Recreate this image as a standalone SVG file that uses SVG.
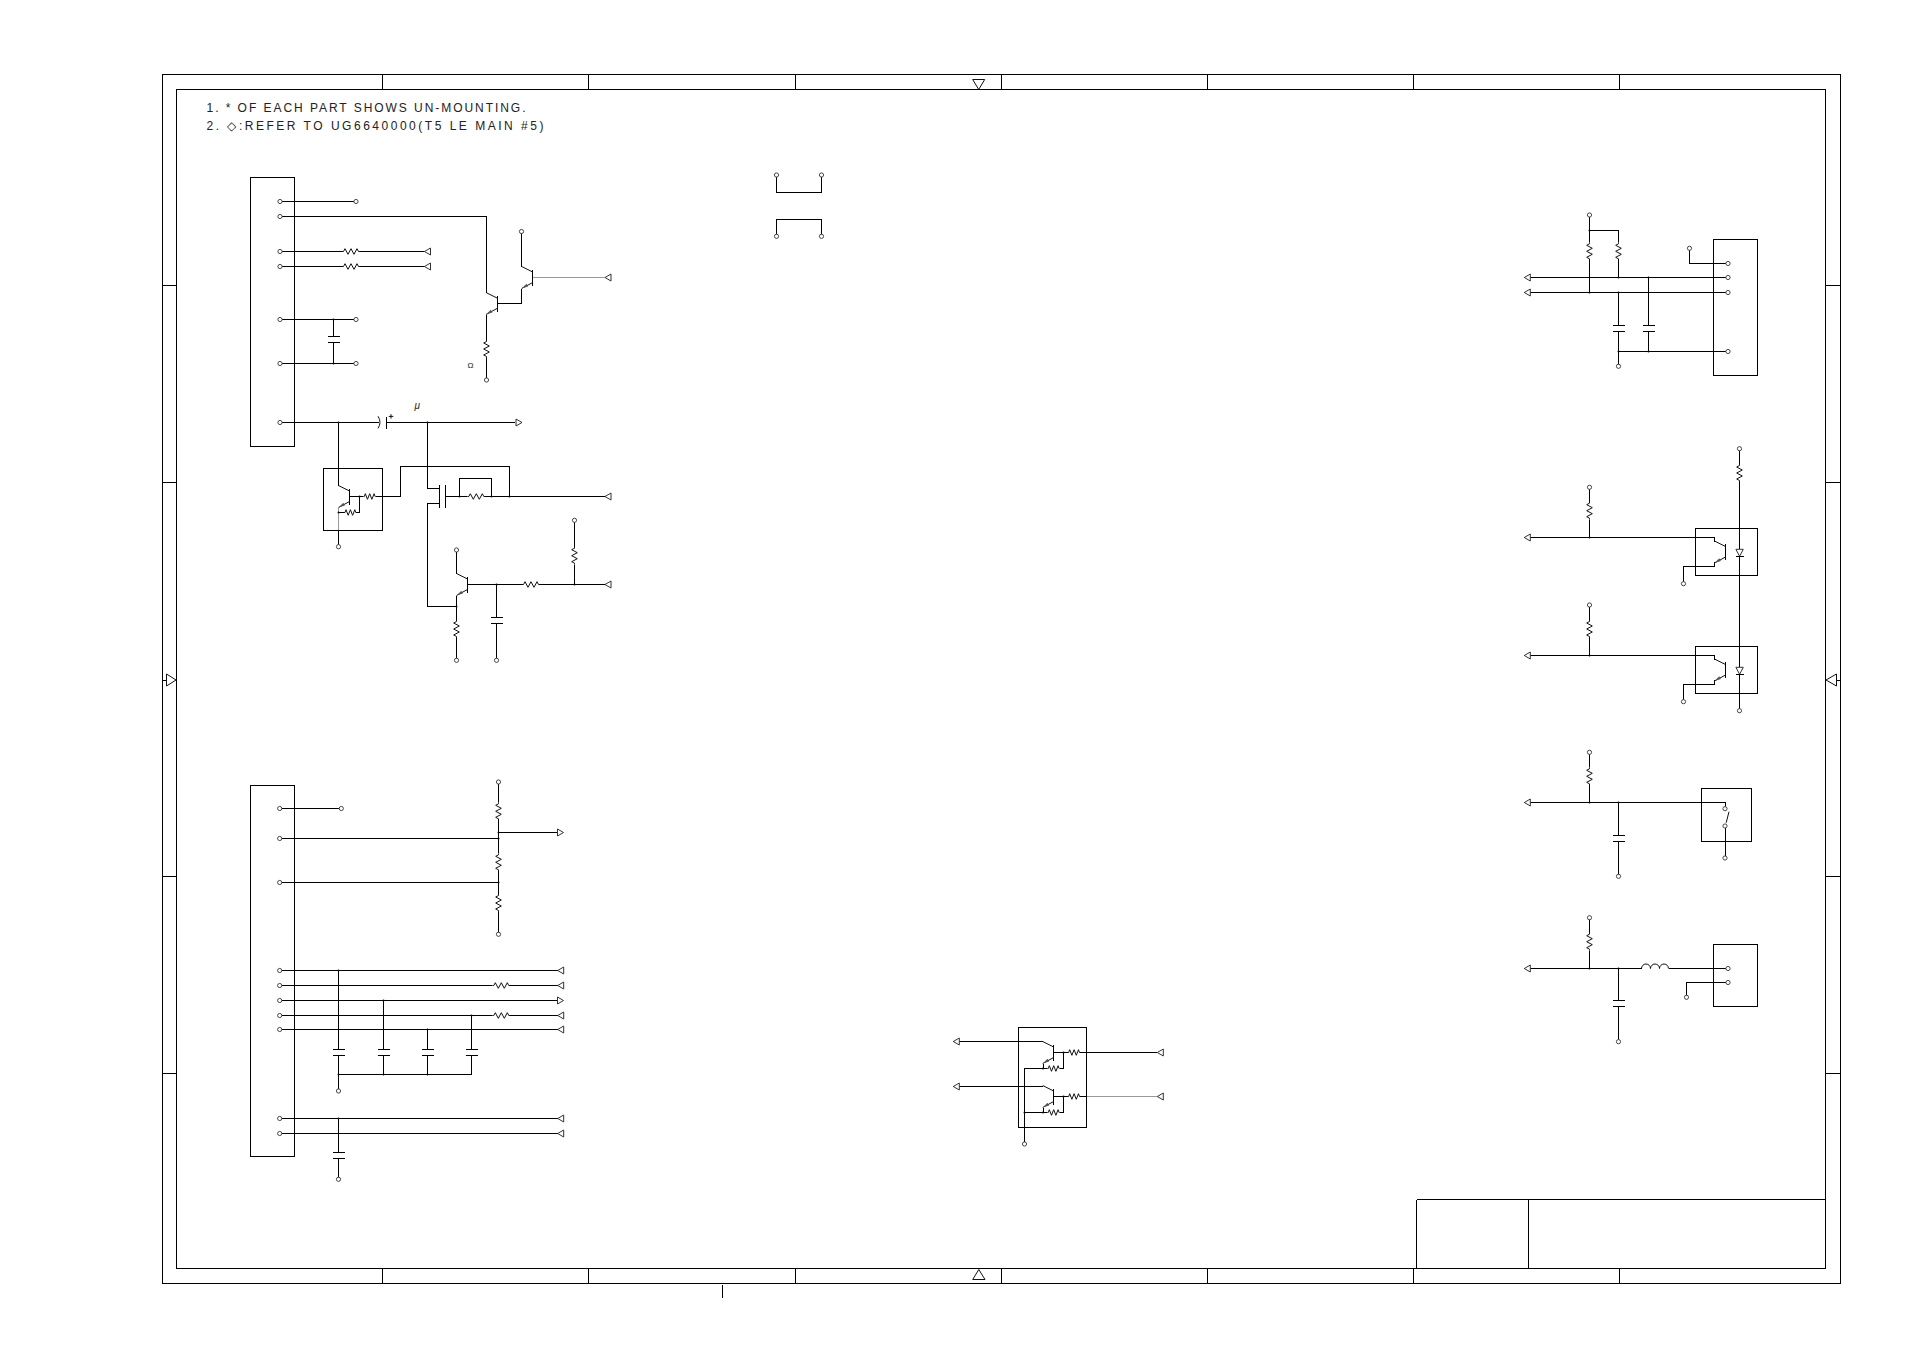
<svg xmlns="http://www.w3.org/2000/svg" xmlns:xlink="http://www.w3.org/1999/xlink" width="1909" height="1350" viewBox="0 0 1909 1350">
<style>
.w,.b{fill:none;stroke:#000;stroke-width:1;shape-rendering:crispEdges}
.g{fill:none;stroke:#999;stroke-width:1;shape-rendering:crispEdges}
.s{fill:none;stroke:#111;stroke-width:1}
.t{fill:#fff;stroke:#333;stroke-width:.9}
.a{fill:#fff;stroke:#333;stroke-width:1}
.d{fill:#000}
.n{font-family:"Liberation Sans",Arial,sans-serif;font-size:12px;fill:#222}
.m{font-family:"Liberation Sans",Arial,sans-serif;font-size:8px;fill:#222}
</style>
<defs>
<circle id="t" class="t" r="2.1"/>
<circle id="j" class="d" r="1"/>
<path id="al" class="a" d="M0 0L6-3.5V3.5Z"/>
<path id="ar" class="a" d="M0 0L-6-3.5V3.5Z"/>
<path id="rh" class="s" d="M0 0H1.5L3-2.8 6 2.8 9-2.8 12 2.8 15-2.8 16.5 0H18"/>
<path id="rv" class="s" d="M0 0V1.5L-2.8 3 2.8 6-2.8 9 2.8 12-2.8 15 0 16.5V18"/>
<path id="rs" class="s" d="M0 0H1L2-2.8 4.2 2.8 6.4-2.8 8.6 2.8 10.8-2.8 11.8 0H12.4"/>
<path id="c" class="b" d="M-6 0H6M-6 6H6"/>
<g id="q"><path class="b" d="M0-8V8"/><path class="s" d="M0-5.5L-11-11M0 5L-11 11"/><path d="M-11 11L-6.2 6.3-4.6 9Z" fill="#555"/></g>
</defs>
<g id="frame">
<path class="b" d="M162.5 74.5H1840.5V1283.5H162.5ZM176.5 89.5H1825.5V1268.5H176.5Z"/>
<path class="b" d="M382.5 74.5V89.5M588.5 74.5V89.5M795.5 74.5V89.5M1001.5 74.5V89.5M1207.5 74.5V89.5M1413.5 74.5V89.5M1619.5 74.5V89.5M382.5 1268.5V1283.5M588.5 1268.5V1283.5M795.5 1268.5V1283.5M1001.5 1268.5V1283.5M1207.5 1268.5V1283.5M1413.5 1268.5V1283.5M1619.5 1268.5V1283.5M162.5 285.5H176.5M162.5 482.5H176.5M162.5 876.5H176.5M162.5 1073.5H176.5M1825.5 285.5H1840.5M1825.5 482.5H1840.5M1825.5 876.5H1840.5M1825.5 1073.5H1840.5M162.5 680.5H166.5M1836.5 680.5H1840.5"/>
<path class="s" d="M972.7 79.5H984.7L978.7 89.5ZM972.7 1279.5H985L978.8 1269.5ZM166.5 674V686L176 680ZM1836.5 674V686L1826 680Z"/>
<path class="b" d="M722.5 1285V1298"/>
<path class="b" d="M1416.5 1199.5H1825.5M1416.5 1199.5V1268.5M1528.5 1199.5V1268.5"/>
</g>
<g id="notes">
<text class="n" x="206.5" y="112.3" textLength="319" lengthAdjust="spacing">1. * OF EACH PART SHOWS UN-MOUNTING.</text>
<text class="n" x="206.5" y="130" textLength="337" lengthAdjust="spacing">2. ◇:REFER TO UG6640000(T5 LE MAIN #5)</text>
<text class="m" x="467.5" y="368">Ω</text>
<text class="m" x="414.5" y="408.5" font-style="italic" style="font-size:10px">μ</text>
</g>
<g id="connectors">
<path class="w" d="M280 201.5H356M280 216.5H486.5V292.5M280 251.5H342M360 251.5H424.5M280 266.5H342M360 266.5H424.5M280 319.5H356M280 363.5H356M333.5 319.5V336.5M333.5 342.5V363.5M280 422.5H379M386.5 422.5H515M486.5 314.5V340M486.5 358V380M497 303.5H521.5V288.5M521.5 266.5V231.5"/>
<path class="g" d="M532.7 277.5H605"/>
<path class="w" d="M338.5 422.5V485.5M338.5 530.5V546.7M349.5 496.5H363.3M375.7 496.5H400.5V466.5H509.5V496.5M359.5 496.5V512.5H356M344 512.5H338.5M427.5 422.5V488.5H439.5M439.5 503.5H427.5V606.5H456.5M445.5 496.5H467.3M485.3 496.5H605M459.5 496.5V478.5H491.5V496.5M456.5 550V573.5M456.5 595.5V620M456.5 638V660.3M467.5 584.5H522M540 584.5H605M496.5 584.5V617.5M496.5 623.5V660.3M574.5 520.3V546.7M574.5 564.7V584.5"/>
<path class="g" d="M338.5 507.5V530.5"/>
<path class="w" d="M279.7 808.5H341.3M279.7 838.5H498.5M279.7 882.5H498.5M498.5 782V802.3M498.5 820.3V853.3M498.5 832.5H557M498.5 871.3V894M498.5 912V934.3M279.7 970.5H557.7M279.7 985.5H492.3M510.3 985.5H557.7M279.7 1000.5H557M279.7 1015.5H492.3M510.3 1015.5H557.7M279.7 1029.5H557.7M338.5 970.5V1049.5M338.5 1055.5V1091M383.5 1000.5V1049.5M383.5 1055.5V1074.5M427.5 1029.5V1049.5M427.5 1055.5V1074.5M471.5 1015.5V1049.5M471.5 1055.5V1074.5H338.5M279.7 1118.5H557.7M279.7 1133.5H557.7M338.5 1118.5V1152.5M338.5 1158.5V1179.3"/>
<path class="w" d="M776.5 175V192.5H821.5V175M776.5 236.3V219.5H821.5V236.3"/>
<path class="w" d="M953.3 1041.5H1043M1043 1063.5V1068.5M1053.7 1052.5H1067.7M1079.7 1052.5H1157.3M1063.5 1052.5V1068.5H1059.7M1047.3 1068.5H1024.5V1144M953.3 1086.5H1043M1043 1107.5V1112.5M1053.7 1096.5H1067.7M1079.7 1096.5H1086.5M1063.5 1096.5V1112.5H1059.7M1047.3 1112.5H1024.5"/>
<path class="g" d="M1086.5 1096.5H1157.3"/>
<path class="w" d="M1728 263.5H1689.5V248.3M1524.3 277.5H1728M1524.3 292.5H1728M1589.5 215V242.3M1589.5 230.5H1618.5V242.3M1589.5 260.3V292.5M1618.5 260.3V277.5M1618.5 292.5V325.5M1618.5 331.5V366.3M1648.5 277.5V325.5M1648.5 331.5V351.5M1618.5 351.5H1728"/>
<path class="w" d="M1739.5 448.7V464M1739.5 482V549M1739.5 556.7V667M1739.5 674.7V710.7M1589.5 487.3V501.7M1589.5 519.7V537.5M1524.3 537.5H1714.5V541.5M1714.5 561.5V566.5H1683.5V583.7M1589.5 605V620M1589.5 638V655.5M1524.3 655.5H1714.5V659.5M1714.5 679.5V684.5H1683.5V701.7"/>
<path class="w" d="M1589.5 752.3V767.3M1589.5 785.3V802.5M1524.3 802.5H1725.5V806.5M1618.5 802.5V835.5M1618.5 841.5V876.3M1725.5 828V858"/>
<path class="s" d="M1729 811.7L1726.2 822.7"/>
<path class="w" d="M1589.5 917.7V932.7M1589.5 950.7V968.5M1524.3 968.5H1641.5M1668.5 968.5H1728M1618.5 968.5V1000.5M1618.5 1006.5V1041.7M1728 982.5H1686.5V997.3"/>
<g id="junctions">
<use href="#j" x="333.5" y="319.5"/><use href="#j" x="333.5" y="363.5"/><use href="#j" x="338.5" y="422.5"/><use href="#j" x="427.5" y="422.5"/>
<use href="#j" x="338.5" y="512.5"/><use href="#j" x="359.5" y="496.5"/><use href="#j" x="459.5" y="496.5"/><use href="#j" x="491.5" y="496.5"/><use href="#j" x="509.5" y="496.5"/><use href="#j" x="456.5" y="606.5"/><use href="#j" x="496.5" y="584.5"/><use href="#j" x="574.5" y="584.5"/>
<use href="#j" x="498.5" y="832.5"/><use href="#j" x="498.5" y="838.5"/><use href="#j" x="498.5" y="882.5"/><use href="#j" x="338.5" y="970.5"/><use href="#j" x="383.5" y="1000.5"/><use href="#j" x="471.5" y="1015.5"/><use href="#j" x="427.5" y="1029.5"/><use href="#j" x="338.5" y="1074.5"/><use href="#j" x="383.5" y="1074.5"/><use href="#j" x="427.5" y="1074.5"/><use href="#j" x="338.5" y="1118.5"/>
<use href="#j" x="1063.5" y="1052.5"/><use href="#j" x="1043" y="1068.5"/><use href="#j" x="1063.5" y="1096.5"/><use href="#j" x="1043" y="1112.5"/><use href="#j" x="1024.5" y="1112.5"/>
<use href="#j" x="1589.5" y="230.5"/><use href="#j" x="1589.5" y="292.5"/><use href="#j" x="1618.5" y="277.5"/><use href="#j" x="1618.5" y="292.5"/><use href="#j" x="1648.5" y="277.5"/><use href="#j" x="1618.5" y="351.5"/><use href="#j" x="1648.5" y="351.5"/>
<use href="#j" x="1589.5" y="537.5"/><use href="#j" x="1589.5" y="655.5"/><use href="#j" x="1589.5" y="802.5"/><use href="#j" x="1618.5" y="802.5"/><use href="#j" x="1589.5" y="968.5"/><use href="#j" x="1618.5" y="968.5"/>
</g>
</g>
<g id="CN1">
<rect class="b" x="250.5" y="177.5" width="44" height="269"/>
<use href="#t" x="280" y="201.5"/><use href="#t" x="280" y="216.5"/><use href="#t" x="280" y="251.5"/><use href="#t" x="280" y="266.5"/><use href="#t" x="280" y="319.5"/><use href="#t" x="280" y="363.5"/><use href="#t" x="280" y="422.5"/>
<use href="#t" x="356" y="201.5"/><use href="#t" x="356" y="319.5"/><use href="#t" x="356" y="363.5"/>
<use href="#al" x="424.5" y="251.5"/><use href="#al" x="424.5" y="266.5"/>
</g>
<g id="R1"><use href="#rh" x="342" y="251.5"/></g>
<g id="R2"><use href="#rh" x="342" y="266.5"/></g>
<g id="C1"><use href="#c" x="333.5" y="336.5"/></g>
<g id="Q1"><use href="#q" x="497" y="303.5"/></g>
<g id="Q2"><use href="#q" x="532.7" y="277.5"/><use href="#t" x="521.5" y="231.5"/><use href="#al" x="605" y="277.5"/></g>
<g id="R3"><use href="#rv" x="486.5" y="340"/><use href="#t" x="486.5" y="380"/></g>
<g id="C2"><path class="s" d="M378 416.3Q382 422.3 378 428.3"/><path class="b" d="M386.5 416.5V428.5"/><path class="s" d="M388.7 416.4H393.3M391 414.2V418.6"/><use href="#ar" x="522" y="422.5"/></g>
<g id="IC1"><rect class="b" x="323.5" y="468.5" width="59" height="62"/><use href="#q" x="349.5" y="496.5"/><use href="#rs" x="363.3" y="496.5"/><use href="#rs" x="344" y="512.5"/><use href="#t" x="338.5" y="546.7"/></g>
<g id="Q4"><path class="b" d="M439.5 484.5V507.5M445.5 484.5V507.5"/></g>
<g id="R4"><use href="#rh" x="467.3" y="496.5"/><use href="#al" x="605" y="496.5"/></g>
<g id="Q5"><use href="#q" x="467.5" y="584.5"/><use href="#t" x="456.5" y="550"/></g>
<g id="R5"><use href="#rv" x="456.5" y="620"/><use href="#t" x="456.5" y="660.3"/></g>
<g id="C3"><use href="#c" x="496.5" y="617.5"/><use href="#t" x="496.5" y="660.3"/></g>
<g id="R6"><use href="#rh" x="522" y="584.5"/><use href="#al" x="605" y="584.5"/></g>
<g id="R7"><use href="#rv" x="574.5" y="546.7"/><use href="#t" x="574.5" y="520.3"/></g>
<g id="CN2">
<rect class="b" x="250.5" y="785.5" width="44" height="371"/>
<use href="#t" x="279.7" y="808.5"/><use href="#t" x="279.7" y="838.5"/><use href="#t" x="279.7" y="882.5"/><use href="#t" x="279.7" y="970.5"/><use href="#t" x="279.7" y="985.5"/><use href="#t" x="279.7" y="1000.5"/><use href="#t" x="279.7" y="1015.5"/><use href="#t" x="279.7" y="1029.5"/><use href="#t" x="279.7" y="1118.5"/><use href="#t" x="279.7" y="1133.5"/>
<use href="#t" x="341.3" y="808.5"/>
<use href="#al" x="557.7" y="970.5"/><use href="#al" x="557.7" y="985.5"/><use href="#ar" x="563.5" y="1000.5"/><use href="#al" x="557.7" y="1015.5"/><use href="#al" x="557.7" y="1029.5"/><use href="#al" x="557.7" y="1118.5"/><use href="#al" x="557.7" y="1133.5"/>
</g>
<g id="R8"><use href="#rv" x="498.5" y="802.3"/><use href="#t" x="498.5" y="782"/><use href="#ar" x="563.5" y="832.5"/></g>
<g id="R9"><use href="#rv" x="498.5" y="853.3"/></g>
<g id="R10"><use href="#rv" x="498.5" y="894"/><use href="#t" x="498.5" y="934.3"/></g>
<g id="R11"><use href="#rh" x="492.3" y="985.5"/></g>
<g id="R12"><use href="#rh" x="492.3" y="1015.5"/></g>
<g id="C4"><use href="#c" x="338.5" y="1049.5"/><use href="#t" x="338.5" y="1091"/></g>
<g id="C5"><use href="#c" x="383.5" y="1049.5"/></g>
<g id="C6"><use href="#c" x="427.5" y="1049.5"/></g>
<g id="C7"><use href="#c" x="471.5" y="1049.5"/></g>
<g id="C8"><use href="#c" x="338.5" y="1152.5"/><use href="#t" x="338.5" y="1179.3"/></g>
<g id="J1"><use href="#t" x="776.5" y="175"/><use href="#t" x="821.5" y="175"/></g>
<g id="J2"><use href="#t" x="776.5" y="236.3"/><use href="#t" x="821.5" y="236.3"/></g>
<g id="IC2">
<rect class="b" x="1018.5" y="1027.5" width="68" height="100"/>
<use href="#q" x="1053.7" y="1052.5"/><use href="#q" x="1053.7" y="1096.5"/>
<use href="#rs" x="1067.7" y="1052.5"/><use href="#rs" x="1047.3" y="1068.5"/><use href="#rs" x="1067.7" y="1096.5"/><use href="#rs" x="1047.3" y="1112.5"/>
<use href="#t" x="1024.5" y="1144"/>
<use href="#al" x="953.3" y="1041.5"/><use href="#al" x="953.3" y="1086.5"/><use href="#al" x="1157.3" y="1052.5"/><use href="#al" x="1157.3" y="1096.5"/>
</g>
<g id="CN3">
<rect class="b" x="1713.5" y="239.5" width="44" height="136"/>
<use href="#t" x="1728" y="263.5"/><use href="#t" x="1728" y="277.5"/><use href="#t" x="1728" y="292.5"/><use href="#t" x="1728" y="351.5"/>
<use href="#t" x="1689.5" y="248.3"/><use href="#t" x="1589.5" y="215"/><use href="#t" x="1618.5" y="366.3"/>
<use href="#al" x="1524.3" y="277.5"/><use href="#al" x="1524.3" y="292.5"/>
</g>
<g id="R13"><use href="#rv" x="1589.5" y="242.3"/></g>
<g id="R14"><use href="#rv" x="1618.5" y="242.3"/></g>
<g id="C9"><use href="#c" x="1618.5" y="325.5"/></g>
<g id="C10"><use href="#c" x="1648.5" y="325.5"/></g>
<g id="R15"><use href="#rv" x="1739.5" y="464"/><use href="#t" x="1739.5" y="448.7"/><use href="#t" x="1739.5" y="710.7"/></g>
<g id="PS1">
<rect class="b" x="1695.5" y="528.5" width="62" height="47"/>
<use href="#q" x="1725.5" y="552"/>
<path class="a" d="M1735.9 549.3H1743.3L1739.6 556.3Z"/><path class="b" d="M1735.5 556.5H1743.5"/>
<use href="#t" x="1683.5" y="583.7"/><use href="#al" x="1524.3" y="537.5"/>
</g>
<g id="R16"><use href="#rv" x="1589.5" y="501.7"/><use href="#t" x="1589.5" y="487.3"/></g>
<g id="PS2">
<rect class="b" x="1695.5" y="646.5" width="62" height="47"/>
<use href="#q" x="1725.5" y="670"/>
<path class="a" d="M1735.9 667.3H1743.3L1739.6 674.3Z"/><path class="b" d="M1735.5 674.5H1743.5"/>
<use href="#t" x="1683.5" y="701.7"/><use href="#al" x="1524.3" y="655.5"/>
</g>
<g id="R17"><use href="#rv" x="1589.5" y="620"/><use href="#t" x="1589.5" y="605"/></g>
<g id="SW1">
<rect class="b" x="1701.5" y="788.5" width="50" height="53"/>
<use href="#t" x="1725" y="808.7"/><use href="#t" x="1725" y="826"/><use href="#t" x="1725" y="858"/><use href="#al" x="1524.3" y="802.5"/>
</g>
<g id="R18"><use href="#rv" x="1589.5" y="767.3"/><use href="#t" x="1589.5" y="752.3"/></g>
<g id="C11"><use href="#c" x="1618.5" y="835.5"/><use href="#t" x="1618.5" y="876.3"/></g>
<g id="CN4">
<rect class="b" x="1713.5" y="944.5" width="44" height="62"/>
<use href="#t" x="1728" y="968.5"/><use href="#t" x="1728" y="982.5"/><use href="#t" x="1686.5" y="997.3"/><use href="#al" x="1524.3" y="968.5"/>
</g>
<g id="R19"><use href="#rv" x="1589.5" y="932.7"/><use href="#t" x="1589.5" y="917.7"/></g>
<g id="L1"><path class="s" d="M1641.5 968.5a4.5 4.5 0 0 1 9 0a4.5 4.5 0 0 1 9 0a4.5 4.5 0 0 1 9 0"/></g>
<g id="C12"><use href="#c" x="1618.5" y="1000.5"/><use href="#t" x="1618.5" y="1041.7"/></g>
</svg>
